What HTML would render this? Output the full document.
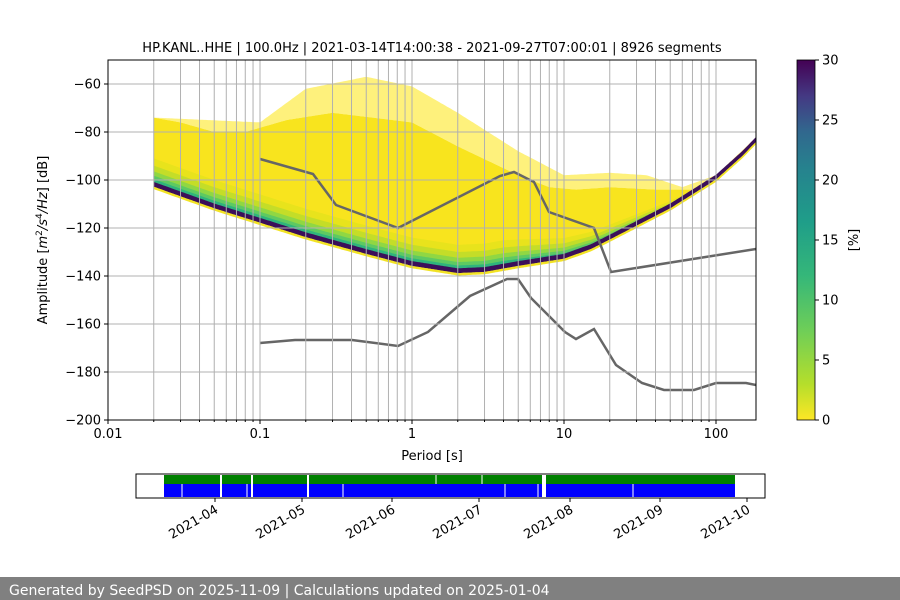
<!DOCTYPE html>
<html><head><meta charset="utf-8"><style>
body{margin:0;background:#fff;font-family:"Liberation Sans","DejaVu Sans",sans-serif}
svg{display:block}
</style></head><body>
<svg id="s" width="900" height="600" xmlns="http://www.w3.org/2000/svg" font-family="DejaVu Sans, Liberation Sans, sans-serif">
<defs>
<linearGradient id="vir" x1="0" y1="1" x2="0" y2="0">
<stop offset="0" stop-color="#fde725"/><stop offset="0.1" stop-color="#b5de2b"/><stop offset="0.25" stop-color="#6ece58"/><stop offset="0.4" stop-color="#35b779"/><stop offset="0.55" stop-color="#1f9e89"/><stop offset="0.7" stop-color="#26828e"/><stop offset="0.8" stop-color="#31688e"/><stop offset="0.9" stop-color="#443983"/><stop offset="1" stop-color="#440154"/>
</linearGradient>
<clipPath id="cp"><rect x="108" y="60" width="648" height="360"/></clipPath>
</defs>
<g id="plot" clip-path="url(#cp)"></g>
<g id="grid"></g>
<rect x="108" y="60" width="648" height="360" fill="none" stroke="#000" stroke-width="1"/>
<g id="ax" font-size="13"></g>
<text x="432" y="52" font-size="13" text-anchor="middle">HP.KANL..HHE | 100.0Hz | 2021-03-14T14:00:38 - 2021-09-27T07:00:01 | 8926 segments</text>
<text x="432" y="460" font-size="13" text-anchor="middle">Period [s]</text>
<text transform="translate(47,240) rotate(-90)" font-size="13" text-anchor="middle">Amplitude [<tspan font-style="italic">m</tspan><tspan font-size="9" dy="-5">2</tspan><tspan dy="5" font-style="italic">/s</tspan><tspan font-size="9" dy="-5">4</tspan><tspan dy="5" font-style="italic">/Hz</tspan>] [dB]</text>
<rect x="797" y="60" width="18" height="360" fill="url(#vir)" stroke="#000" stroke-width="0.8"/>
<g id="cb" font-size="13"></g>
<text transform="translate(858,240) rotate(-90)" font-size="13" text-anchor="middle">[%]</text>
<g id="tl"></g>
<rect x="0" y="577" width="900" height="23" fill="#808080"/>
<text x="9" y="595" font-size="14" fill="#fff">Generated by SeedPSD on 2025-11-09 | Calculations updated on 2025-01-04</text>
</svg>
<script>
const NS="http://www.w3.org/2000/svg";
function el(p,t,a,txt){const e=document.createElementNS(NS,t);for(const k in a)e.setAttribute(k,a[k]);if(txt!==undefined)e.textContent=txt;document.getElementById(p).appendChild(e);return e;}
const X=p=>108+152*(Math.log10(p)+2), Y=d=>60+(-50-d)*2.4;
function interp(pts,p){for(let i=0;i<pts.length-1;i++){if(p<=pts[i+1][0]){const a=pts[i],b=pts[i+1];const t=(Math.log(p)-Math.log(a[0]))/(Math.log(b[0])-Math.log(a[0]));return a[1]+t*(b[1]-a[1]);}}return pts[pts.length-1][1];}
const low=[[0.02,-103],[0.03,-107],[0.05,-112],[0.1,-118],[0.2,-124],[0.5,-131],[1,-136],[2,-139],[3,-138.5],[5,-136],[10,-133],[15,-129],[20,-125],[50,-112],[100,-100],[150,-90],[185,-84]];
const up=[[0.02,-74],[0.03,-76],[0.05,-80],[0.08,-80],[0.15,-75],[0.3,-72],[1,-76],[2,-86],[5,-98],[8,-103],[12,-104],[20,-103],[40,-104],[70,-104],[100,-98],[150,-88],[185,-82]];
const sp=[[0.02,-74],[0.1,-76],[0.2,-62],[0.5,-57],[1,-61],[2,-72],[5,-88],[10,-98],[20,-97],[35,-98],[60,-103],[100,-98],[185,-82]];
const ps=[];for(let l=Math.log10(0.02);l<=Math.log10(185)+1e-9;l+=0.01)ps.push(Math.pow(10,l));
function poly(a,b,fill,op){let s="";ps.forEach(p=>s+=X(p).toFixed(1)+","+Y(a(p)).toFixed(1)+" ");ps.slice().reverse().forEach(p=>s+=X(p).toFixed(1)+","+Y(b(p)).toFixed(1)+" ");el("plot","polygon",{points:s,fill:fill,"fill-opacity":op===undefined?1:op});}
poly(p=>interp(sp,p),p=>interp(up,p),"#fde725",0.6);
poly(p=>interp(up,p),p=>interp(low,p),"#f8e41e");
const w=p=>{const l=Math.log10(p);return l<0.6?12:Math.max(2,12-(l-0.6)*8);};
const bands=[[1.0,"#e8e31c"],[0.75,"#c4dd28"],[0.55,"#90d743"],[0.4,"#5ec962"],[0.28,"#2fb47c"],[0.18,"#21918c"],[0.1,"#31688e"]];
bands.forEach(([f,c])=>poly(p=>interp(low,p)+w(p)*f,p=>interp(low,p)+1.3,c));
poly(p=>interp(low,p)+2.2,p=>interp(low,p)+0.2,"#3b0f5a");
poly(p=>interp(low,p)+0.2,p=>interp(low,p)-0.8,"#f2e325");
for(let d=-2;d<=2;d++)for(let m=1;m<10;m++){const p=m*Math.pow(10,d);if(p<0.02||p>185)continue;el("grid","line",{x1:X(p),x2:X(p),y1:60,y2:420,stroke:"#b0b0b0","stroke-width":1});}
for(let d=-60;d>=-200;d-=20)el("grid","line",{x1:108,x2:756,y1:Y(d),y2:Y(d),stroke:"#b0b0b0","stroke-width":1});
const nh=[[260,159],[313,174],[336,205],[398,228],[500,176],[514,172],[534,182],[549,212],[594,228],[611,272],[756,249]];
const nl=[[260,343],[295,340],[352,340],[398,346],[428,332],[470,296],[507,279],[518,279],[531,298],[565,332],[576,339],[594,329],[616,365],[642,383],[664,390],[694,390],[716,383],[746,383],[756,385]];
[nh,nl].forEach(a=>el("plot","polyline",{points:a.map(q=>q.join(",")).join(" "),fill:"none",stroke:"#666","stroke-width":2.5}));
for(let d=-60;d>=-200;d-=20){el("ax","line",{x1:104,x2:108,y1:Y(d),y2:Y(d),stroke:"#000"});el("ax","text",{x:101,y:Y(d)+4.5,"text-anchor":"end"},"\u2212"+(-d));}
[[0.01,"0.01"],[0.1,"0.1"],[1,"1"],[10,"10"],[100,"100"]].forEach(([p,t])=>{el("ax","line",{x1:X(p),x2:X(p),y1:420,y2:424,stroke:"#000"});el("ax","text",{x:X(p),y:438,"text-anchor":"middle"},t);});
for(let d=-2;d<=2;d++)for(let m=2;m<10;m++){const p=m*Math.pow(10,d);if(X(p)>756)continue;el("ax","line",{x1:X(p),x2:X(p),y1:420,y2:422,stroke:"#000"});}
for(let v=0;v<=30;v+=5){const y=420-v*12;el("cb","line",{x1:815,x2:819,y1:y,y2:y,stroke:"#000"});el("cb","text",{x:822,y:y+4.5},String(v));}
el("tl","rect",{x:164,y:475,width:571,height:9,fill:"#008000"});
el("tl","rect",{x:164,y:484,width:571,height:13,fill:"#0000ff"});
[221,252,308].forEach(x=>el("tl","rect",{x:x-1,y:475,width:2,height:22,fill:"#fff"}));
el("tl","rect",{x:542,y:475,width:4,height:22,fill:"#fff"});
[436,482].forEach(x=>el("tl","rect",{x:x-0.5,y:475,width:1,height:9,fill:"#fff"}));
[182,247,343,505,538,633].forEach(x=>el("tl","rect",{x:x-0.5,y:484,width:1,height:13,fill:"#fff"}));
el("tl","rect",{x:136,y:474,width:629,height:24,fill:"none",stroke:"#000","stroke-width":1});
[[215,"04"],[302,"05"],[392,"06"],[479,"07"],[570,"08"],[660,"09"],[747,"10"]].forEach(([x,m])=>{el("tl","line",{x1:x,x2:x,y1:498,y2:502,stroke:"#000"});el("tl","text",{transform:`translate(${x+4},${512}) rotate(-30)`,"text-anchor":"end","font-size":13},"2021-"+m);});
</script>
</body></html>
